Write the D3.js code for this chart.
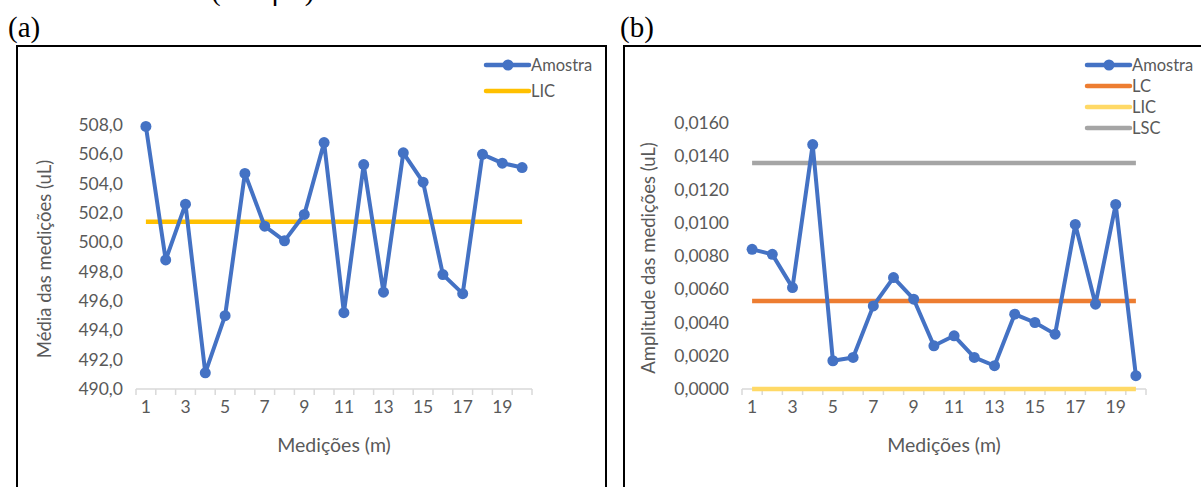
<!DOCTYPE html>
<html>
<head>
<meta charset="utf-8">
<script src="https://cdn.jsdelivr.net/npm/d3@7"></script>
<style>
  html, body { margin: 0; padding: 0; background: #fff; }
  svg { display: block; }
  .tick-label, .axis-title, .legend-text { font-family: Lato, "Open Sans", sans-serif; fill: #595959; }
</style>
</head>
<body>
<svg id="chart" width="1201" height="487"></svg>
<script>
// Measurement index (m)
const measurements = d3.range(1, 21);

// (a) sample means, uL
const meanValues = [507.9, 498.8, 502.6, 491.1, 495.0, 504.7, 501.1, 500.1, 501.9, 506.8,
                    495.2, 505.3, 496.6, 506.1, 504.1, 497.8, 496.5, 506.0, 505.4, 505.1];
const meanLIC = 501.4;
const meanTicks = [490, 492, 494, 496, 498, 500, 502, 504, 506, 508];

// (b) sample ranges, uL
const rangeValues = [0.0084, 0.0081, 0.0061, 0.0147, 0.0017, 0.0019, 0.0050, 0.0067, 0.0054, 0.0026,
                     0.0032, 0.0019, 0.0014, 0.0045, 0.0040, 0.0033, 0.0099, 0.0051, 0.0111, 0.0008];
const rangeLC = 0.0053;
const rangeLIC = 0.0;
const rangeLSC = 0.0136;
const rangeTicks = [0, 0.002, 0.004, 0.006, 0.008, 0.010, 0.012, 0.014, 0.016];

const xTickLabels = [1, 3, 5, 7, 9, 11, 13, 15, 17, 19];

const BLUE = "#4472C4";
const svg = d3.select("#chart");

// Caption line above the panels (only its lower part is inside the page)
svg.append("text").attr("x", 211).attr("y", 0)
  .attr("font-family", "'Liberation Serif', 'Times New Roman', serif")
  .attr("font-size", 29).attr("fill", "#000").text("(500 μL)");

function panel(cfg) {
  const g = svg.append("g");

  // panel letter and frame
  g.append("text").attr("x", cfg.labelX).attr("y", 37)
    .attr("font-family", "'Liberation Serif', 'Times New Roman', serif")
    .attr("font-size", 29).attr("fill", "#000").text(cfg.letter);
  g.append("rect").attr("x", cfg.frame[0]).attr("y", 46)
    .attr("width", cfg.frame[1] - cfg.frame[0]).attr("height", 520)
    .attr("fill", "none").attr("stroke", "#000").attr("stroke-width", 2);

  const x = d3.scaleBand().domain(measurements).range(cfg.xRange).padding(0);
  const cx = d => x(d) + x.bandwidth() / 2;
  const y = d3.scaleLinear().domain(cfg.yDomain).range(cfg.yRange);

  // y tick labels (no gridlines)
  g.selectAll(".yl").data(cfg.ticks).join("text")
    .attr("class", "tick-label")
    .attr("x", cfg.xRange[0] - 13).attr("y", d => y(d))
    .attr("dy", "0.35em").attr("text-anchor", "end")
    .attr("font-size", 17.5)
    .text(d => cfg.fmt(d).replace(".", ","));

  // x axis line with tick marks at category boundaries
  const axisY = y(cfg.yDomain[0]);
  g.append("line").attr("x1", cfg.xRange[0]).attr("x2", cfg.xRange[1])
    .attr("y1", axisY).attr("y2", axisY).attr("stroke", "#d9d9d9").attr("stroke-width", 1.5);
  const bounds = measurements.map(d => x(d)).concat([cfg.xRange[1]]);
  g.selectAll(".xt").data(bounds).join("line")
    .attr("x1", d => d).attr("x2", d => d)
    .attr("y1", axisY).attr("y2", axisY + 6)
    .attr("stroke", "#d9d9d9").attr("stroke-width", 1.5);
  g.selectAll(".xl").data(xTickLabels).join("text")
    .attr("class", "tick-label")
    .attr("x", d => cx(d)).attr("y", axisY + 24)
    .attr("text-anchor", "middle").attr("font-size", 17.5)
    .text(d => d);

  // axis titles
  g.append("text").attr("class", "axis-title")
    .attr("x", (cfg.xRange[0] + cfg.xRange[1]) / 2).attr("y", axisY + 63)
    .attr("text-anchor", "middle").attr("font-size", 19.5).text("Medições (m)");
  g.append("text").attr("class", "axis-title")
    .attr("transform", `translate(${cfg.yTitleX},${(cfg.yRange[0] + cfg.yRange[1]) / 2 + 2}) rotate(-90)`)
    .attr("text-anchor", "middle").attr("font-size", 18.5).text(cfg.yTitle);

  // control limit lines
  cfg.limits.forEach(l => {
    g.append("line")
      .attr("x1", cx(measurements[0])).attr("x2", cx(measurements[measurements.length - 1]))
      .attr("y1", y(l.value)).attr("y2", y(l.value))
      .attr("stroke", l.color).attr("stroke-width", 4.5);
  });

  // sample series
  const line = d3.line().x((d, i) => cx(measurements[i])).y(d => y(d));
  g.append("path").datum(cfg.values).attr("d", line)
    .attr("fill", "none").attr("stroke", BLUE).attr("stroke-width", 4)
    .attr("stroke-linejoin", "round");
  g.selectAll(".pt").data(cfg.values).join("circle")
    .attr("cx", (d, i) => cx(measurements[i])).attr("cy", d => y(d))
    .attr("r", 5.5).attr("fill", BLUE);

  // legend
  const items = [{ name: "Amostra", color: BLUE, marker: true }]
    .concat(cfg.limits.map(l => ({ name: l.name, color: l.color, marker: false })));
  items.forEach((it, i) => {
    const ly = 65 + i * cfg.legendStep;
    g.append("line").attr("x1", cfg.legendX).attr("x2", cfg.legendX + 43)
      .attr("y1", ly).attr("y2", ly)
      .attr("stroke", it.color).attr("stroke-width", 4.5).attr("stroke-linecap", "round");
    if (it.marker) {
      g.append("circle").attr("cx", cfg.legendX + 22).attr("cy", ly).attr("r", 5.5).attr("fill", it.color);
    }
    g.append("text").attr("class", "legend-text")
      .attr("x", cfg.legendX + 45).attr("y", ly).attr("dy", "0.35em")
      .attr("font-size", 16.5).text(it.name);
  });
}

panel({
  letter: "(a)", labelX: 8, frame: [17, 606],
  xRange: [136, 532], yDomain: [490, 508], yRange: [389, 125],
  ticks: meanTicks, fmt: d3.format(".1f"),
  values: meanValues,
  limits: [{ name: "LIC", value: meanLIC, color: "#FFC000" }],
  yTitle: "Média das medições (uL)", yTitleX: 51,
  legendX: 486, legendStep: 26
});

panel({
  letter: "(b)", labelX: 620, frame: [624, 1210],
  xRange: [742, 1146], yDomain: [0, 0.016], yRange: [389, 123],
  ticks: rangeTicks, fmt: d3.format(".4f"),
  values: rangeValues,
  limits: [
    { name: "LC", value: rangeLC, color: "#ED7D31" },
    { name: "LIC", value: rangeLIC, color: "#FFD966" },
    { name: "LSC", value: rangeLSC, color: "#A5A5A5" }
  ],
  yTitle: "Amplitude das medições (uL)", yTitleX: 655,
  legendX: 1087, legendStep: 21
});
</script>
</body>
</html>
